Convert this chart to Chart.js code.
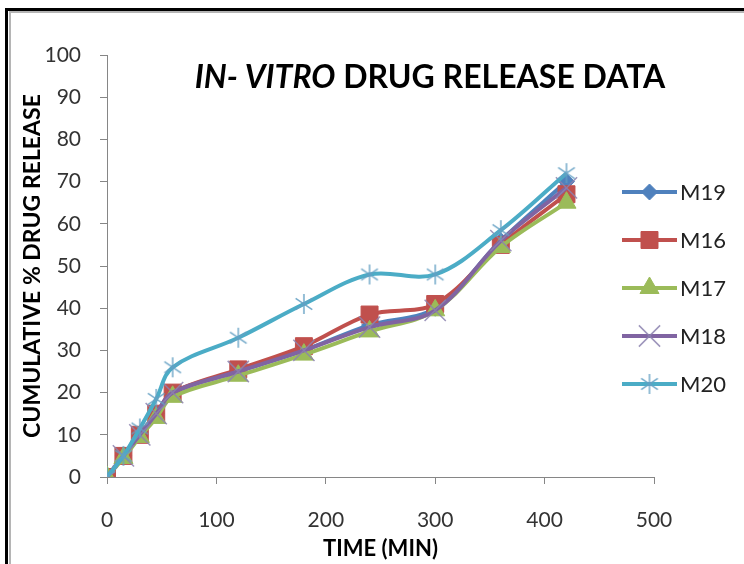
<!DOCTYPE html>
<html>
<head>
<meta charset="utf-8">
<script src="https://cdn.jsdelivr.net/npm/chart.js@4.4.0/dist/chart.umd.min.js"></script>
<style>
    html, body { margin: 0; padding: 0; background: #fff; }
    #wrap { width: 744px; height: 564px; }
</style>
</head>
<body>
<div id="wrap"><canvas id="chartRelease" width="744" height="564"></canvas></div>
<script>
// sampling times (min)
var times = [0, 15, 30, 45, 60, 120, 180, 240, 300, 360, 420];

// cumulative % drug release, one array per batch
var m19 = [0, 5, 10, 15, 20, 25, 30, 36, 40, 56, 70];
var m16 = [0, 5, 10, 15, 20, 25.5, 31, 38.5, 41, 55, 67];
var m17 = [0, 4.5, 9.5, 14, 19, 24, 29, 34.5, 39.5, 54.5, 65];
var m18 = [0, 5, 10, 15, 20, 25, 30, 35.5, 39.5, 56, 68.5];
var m20 = [0, 5, 11.5, 18.5, 26, 33, 41, 48, 48, 58.5, 72];

var seriesNames = ['M19', 'M16', 'M17', 'M18', 'M20'];
var xTicks = [0, 100, 200, 300, 400, 500];
var yTicks = [0, 10, 20, 30, 40, 50, 60, 70, 80, 90, 100];

var FONT = 'Lato, "Open Sans", sans-serif';

// excel style "star" marker: an X with a vertical bar
function starMarker(color, size){
    var c = document.createElement('canvas');
    c.width = size; c.height = size;
    var g = c.getContext('2d');
    var m = size / 2, r = size / 2 - 1;
    var dx = r * Math.sin(Math.PI / 3.2), dy = r * Math.cos(Math.PI / 3.2);
    g.strokeStyle = color;
    g.lineWidth = 1.5;
    g.beginPath();
    g.moveTo(m, m - r); g.lineTo(m, m + r);
    g.moveTo(m - dx, m - dy); g.lineTo(m + dx, m + dy);
    g.moveTo(m - dx, m + dy); g.lineTo(m + dx, m - dy);
    g.stroke();
    return c;
}

function pts(arr){
    return arr.map(function(v, i){ return {x: times[i], y: v}; });
}

var styles = [
    {color: '#4F81BD', point: 'rectRot',  radius: 8,  mk: '#4F81BD'},
    {color: '#C0504D', point: 'rect',     radius: 12, mk: '#C0504D'},
    {color: '#9BBB59', point: 'triangle', radius: 11, mk: '#9BBB59'},
    {color: '#8064A2', point: 'crossRot', radius: 15, mk: 'rgba(140,130,175,0.85)'},
    {color: '#4BACC6', point: starMarker('rgba(100,160,195,0.9)', 22), radius: 11, mk: 'rgba(100,160,195,0.9)'}
];

var values = [m19, m16, m17, m18, m20];

var datasets = values.map(function(arr, i){
    var s = styles[i];
    return {
        label: seriesNames[i],
        data: pts(arr),
        borderColor: s.color,
        backgroundColor: s.color,
        borderWidth: 4,
        tension: 0.35,
        pointStyle: s.point,
        pointRadius: s.radius,
        pointBackgroundColor: s.color,
        pointBorderColor: s.mk,
        pointBorderWidth: (i >= 3 ? 1.5 : 1),
        order: values.length - i   // later series drawn on top
    };
});

var sheetPlugin = {
    id: 'sheet',
    beforeDraw: function(chart){
        var ctx = chart.ctx;
        ctx.save();
        ctx.fillStyle = '#fff';
        ctx.fillRect(0, 0, chart.width, chart.height);
        // frame
        ctx.strokeStyle = '#000';
        ctx.lineWidth = 3;
        ctx.beginPath();
        ctx.moveTo(6.5, chart.height); ctx.lineTo(6.5, 9.5); ctx.lineTo(chart.width, 9.5);
        ctx.stroke();
        ctx.strokeStyle = '#b5b5b5';
        ctx.lineWidth = 2;
        ctx.beginPath();
        ctx.moveTo(10, chart.height); ctx.lineTo(10, 12); ctx.lineTo(chart.width, 12);
        ctx.stroke();
        ctx.restore();
    },
    afterDraw: function(chart){
        var ctx = chart.ctx;
        ctx.save();

        // title, partly italic
        var t1 = 'IN- VITRO', t2 = ' DRUG RELEASE DATA';
        var f1 = 'italic bold 32px ' + FONT, f2 = 'bold 32px ' + FONT;
        ctx.font = f1; var w1 = ctx.measureText(t1).width;
        ctx.font = f2; var w2 = ctx.measureText(t2).width;
        var x0 = 430 - (w1 + w2) / 2;
        ctx.fillStyle = '#000';
        ctx.textBaseline = 'middle';
        ctx.textAlign = 'left';
        ctx.font = f1; ctx.fillText(t1, x0, 78);
        ctx.font = f2; ctx.fillText(t2, x0 + w1, 78);

        // legend: line + marker + name
        var lx = 622, lw = 55, top = 192, step = 48;
        chart.data.datasets.forEach(function(ds, i){
            var y = top + i * step;
            ctx.strokeStyle = ds.borderColor;
            ctx.lineWidth = 4;
            ctx.beginPath();
            ctx.moveTo(lx, y); ctx.lineTo(lx + lw, y);
            ctx.stroke();
            ctx.fillStyle = ds.pointBackgroundColor;
            ctx.strokeStyle = ds.pointBorderColor;
            ctx.lineWidth = ds.pointBorderWidth;
            Chart.helpers.drawPoint(ctx, {
                pointStyle: ds.pointStyle,
                radius: ds.pointRadius,
                rotation: 0,
                borderWidth: ds.pointBorderWidth
            }, lx + lw / 2, y);
            ctx.fillStyle = '#222';
            ctx.font = '22px ' + FONT;
            ctx.textAlign = 'left';
            ctx.textBaseline = 'middle';
            ctx.fillText(ds.label, lx + lw + 3, y + 1);
        });
        ctx.restore();
    }
};

var axisColor = '#868686';

var ctx = document.getElementById('chartRelease').getContext('2d');
var chart = new Chart(ctx, {
    type: 'line',
    data: { datasets: datasets },
    plugins: [sheetPlugin],
    options: {
        responsive: false,
        animation: false,
        events: [],
        layout: { padding: { top: 55, right: 90, left: 0, bottom: 0 } },
        plugins: {
            legend: { display: false },
            title: { display: false },
            tooltip: { enabled: false }
        },
        scales: {
            x: {
                type: 'linear',
                min: xTicks[0],
                max: xTicks[xTicks.length - 1],
                afterBuildTicks: function(s){ s.ticks = xTicks.map(function(v){ return {value: v}; }); },
                afterFit: function(s){ s.height = 87; },
                grid: { drawOnChartArea: false, drawTicks: true, tickLength: 7, color: axisColor },
                border: { color: axisColor, width: 1 },
                ticks: { color: '#333', font: { family: FONT, size: 21 }, padding: 24, maxRotation: 0 },
                title: {
                    display: true,
                    text: 'TIME (MIN)',
                    color: '#000',
                    font: { family: FONT, size: 22, weight: 'bold' },
                    padding: { top: 0, bottom: 2 }
                }
            },
            y: {
                min: yTicks[0],
                max: yTicks[yTicks.length - 1],
                afterBuildTicks: function(s){ s.ticks = yTicks.map(function(v){ return {value: v}; }); },
                afterFit: function(s){ s.width = 107; },
                grid: { drawOnChartArea: false, drawTicks: true, tickLength: 7, color: axisColor },
                border: { color: axisColor, width: 1 },
                ticks: { color: '#333', font: { family: FONT, size: 21 }, padding: 19 },
                title: {
                    display: true,
                    text: 'CUMULATIVE % DRUG RELEASE',
                    color: '#000',
                    font: { family: FONT, size: 23, weight: 'bold' },
                    padding: { top: 19, bottom: 0 }
                }
            }
        }
    }
});
</script>
</body>
</html>
